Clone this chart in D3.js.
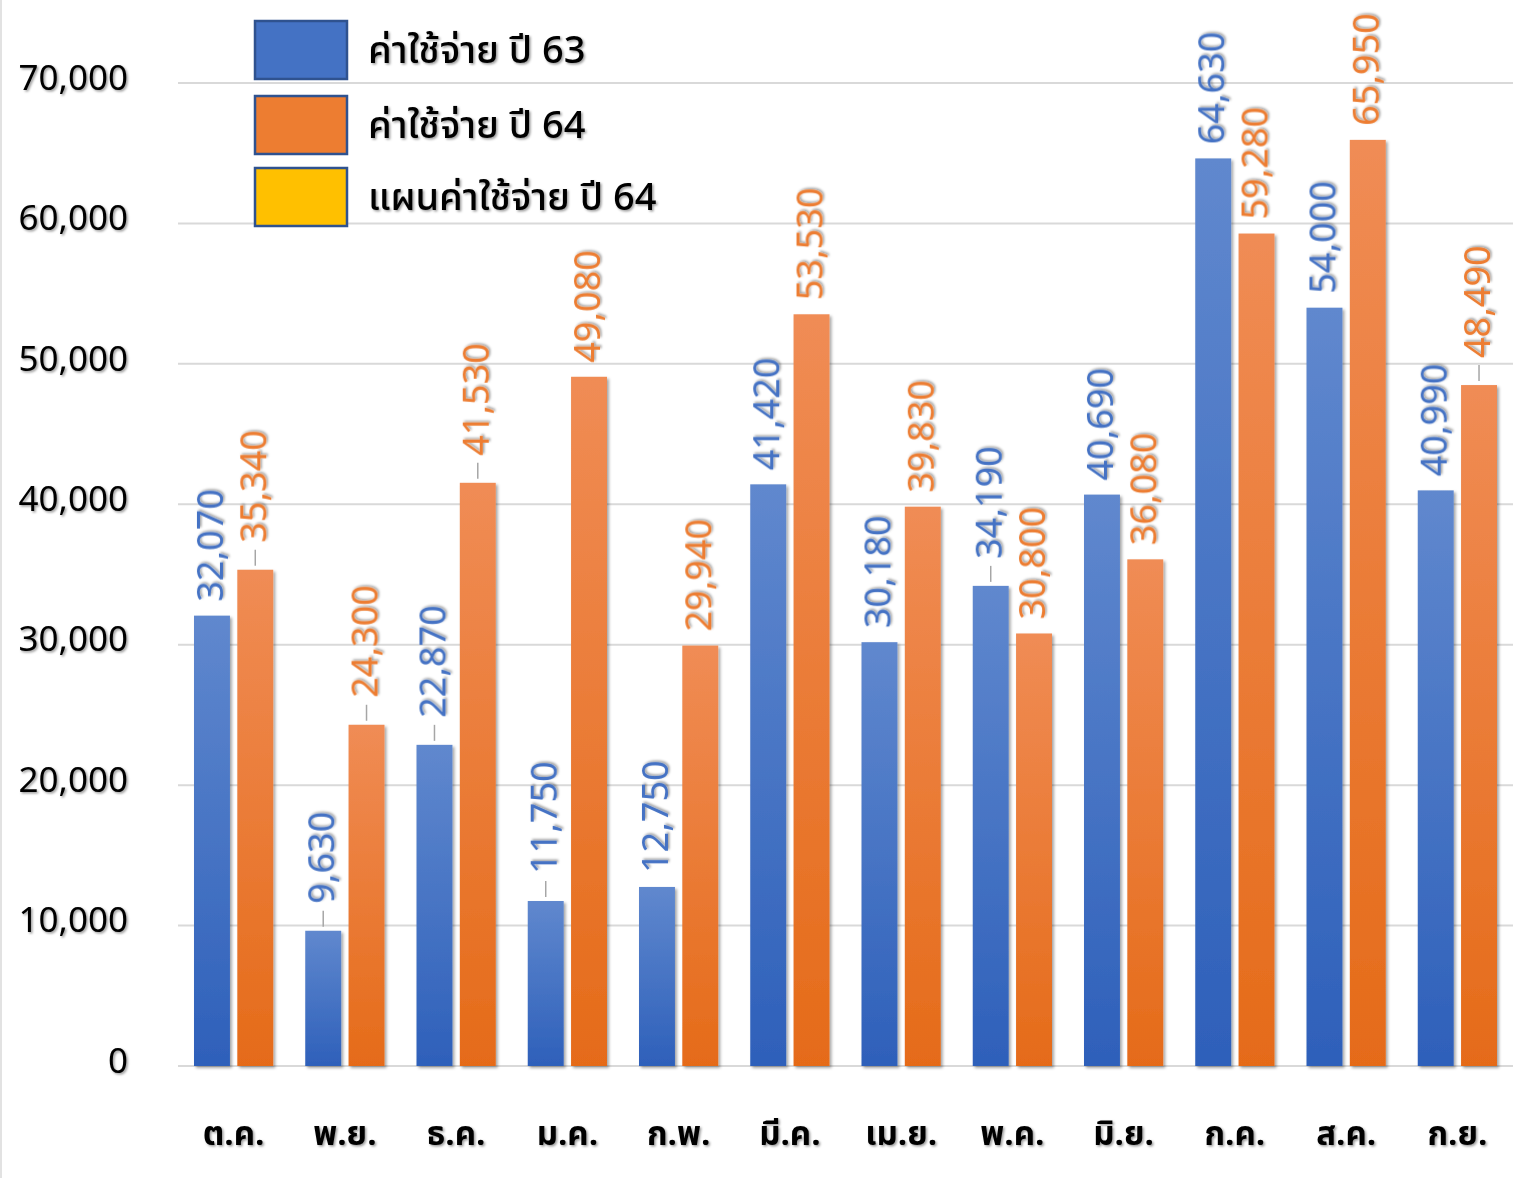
<!DOCTYPE html>
<html>
<head>
<meta charset="utf-8">
<script src="https://cdn.jsdelivr.net/npm/d3@7"></script>
<style>
  html, body { margin: 0; padding: 0; background: #fff; }
  svg { display: block; }
  text { font-family: "Noto Sans Thai", "Noto Sans", "Open Sans", sans-serif; }
</style>
</head>
<body>
<svg id="chart" width="1524" height="1178"></svg>
<script>
// ---- data ----
const months = ["ต.ค.", "พ.ย.", "ธ.ค.", "ม.ค.", "ก.พ.", "มี.ค.", "เม.ย.", "พ.ค.", "มิ.ย.", "ก.ค.", "ส.ค.", "ก.ย."];
const expense63 = [32070, 9630, 22870, 11750, 12750, 41420, 30180, 34190, 40690, 64630, 54000, 40990];
const expense64 = [35340, 24300, 41530, 49080, 29940, 53530, 39830, 30800, 36080, 59280, 65950, 48490];
const plan64 = []; // shown in legend only
const seriesNames = ["ค่าใช้จ่าย ปี 63", "ค่าใช้จ่าย ปี 64", "แผนค่าใช้จ่าย ปี 64"];
const yTicks = [0, 10000, 20000, 30000, 40000, 50000, 60000, 70000];
// labels that Excel moved up and connected with a leader line
const leader63 = ["พ.ย.", "ธ.ค.", "ม.ค.", "พ.ค."];
const leader64 = ["ต.ค.", "พ.ย.", "ธ.ค.", "ก.ย."];

const svg = d3.select("#chart");
const W = 1524, H = 1178;
const plot = { left: 178, right: 1513, top: 83, bottom: 1066 };

const defs = svg.append("defs");
const shadow = defs.append("filter").attr("id", "shadow")
  .attr("x", "-20%").attr("y", "-20%").attr("width", "140%").attr("height", "140%");
shadow.append("feDropShadow").attr("dx", 2).attr("dy", 2).attr("stdDeviation", 1.5)
  .attr("flood-color", "#000").attr("flood-opacity", 0.35);
const tshadow = defs.append("filter").attr("id", "tshadow")
  .attr("x", "-20%").attr("y", "-20%").attr("width", "140%").attr("height", "140%");
tshadow.append("feDropShadow").attr("dx", 1.5).attr("dy", 1.5).attr("stdDeviation", 1.2)
  .attr("flood-color", "#000").attr("flood-opacity", 0.4);

function grad(id, top, bottom) {
  const g = defs.append("linearGradient").attr("id", id)
    .attr("x1", 0).attr("y1", 0).attr("x2", 0).attr("y2", 1);
  g.append("stop").attr("offset", "0%").attr("stop-color", top);
  g.append("stop").attr("offset", "100%").attr("stop-color", bottom);
}
grad("gBlue", "#6088CE", "#2E60BA");
grad("gOrange", "#F08C55", "#E56B19");

const colors = ["#4472C4", "#ED7D31", "#FFC000"];

// chart border (left edge visible)
svg.append("line").attr("x1", 1).attr("x2", 1).attr("y1", 0).attr("y2", H)
  .attr("stroke", "#d9d9d9").attr("stroke-width", 1.5);

const y = d3.scaleLinear().domain([0, 70000]).range([plot.bottom, plot.top]);
const x0 = d3.scaleBand().domain(months).range([plot.left, plot.right]).padding(0);
const x1 = d3.scaleBand().domain(["63", "64"]).range([16, x0.bandwidth() - 16]).paddingInner(0.17);

// gridlines
svg.append("g").selectAll("line").data(yTicks).join("line")
  .attr("x1", plot.left).attr("x2", plot.right)
  .attr("y1", d => y(d)).attr("y2", d => y(d))
  .attr("stroke", "#d9d9d9").attr("stroke-width", 2);

// y axis labels
const fmt = d3.format(",");
svg.append("g").selectAll("text").data(yTicks).join("text")
  .attr("x", 128).attr("y", d => y(d) - 3)
  .attr("text-anchor", "end").attr("dominant-baseline", "middle")
  .attr("font-size", 35).attr("fill", "#000").attr("filter", "url(#tshadow)")
  .text(d => fmt(d));

// x axis labels
svg.append("g").selectAll("text").data(months).join("text")
  .attr("x", d => x0(d) + x0.bandwidth() / 2).attr("y", 1145)
  .attr("text-anchor", "middle")
  .attr("font-size", 33).attr("font-weight", "bold").attr("fill", "#000").attr("filter", "url(#tshadow)")
  .text(d => d);

const series = [
  { key: "63", values: expense63, fill: "url(#gBlue)", color: colors[0], leaders: leader63 },
  { key: "64", values: expense64, fill: "url(#gOrange)", color: colors[1], leaders: leader64 }
];

series.forEach(s => {
  const data = months.map((m, i) => ({ m, v: s.values[i], leader: s.leaders.includes(m) }));
  const g = svg.append("g");
  g.selectAll("rect").data(data).join("rect")
    .attr("x", d => x0(d.m) + x1(s.key))
    .attr("y", d => y(d.v))
    .attr("width", x1.bandwidth())
    .attr("height", d => y(0) - y(d.v))
    .attr("fill", s.fill)
    .attr("filter", "url(#shadow)");

  const cx = d => x0(d.m) + x1(s.key) + x1.bandwidth() / 2;
  // leader lines
  g.selectAll("line.leader").data(data.filter(d => d.leader)).join("line")
    .attr("class", "leader")
    .attr("x1", cx).attr("x2", cx)
    .attr("y1", d => y(d.v) - 4).attr("y2", d => y(d.v) - 20)
    .attr("stroke", "#a6a6a6").attr("stroke-width", 1.5);
  // labels
  g.selectAll("text").data(data).join("text")
    .attr("transform", d => `translate(${cx(d)},${y(d.v) - (d.leader ? 27 : 14)}) rotate(-90)`)
    .attr("text-anchor", "start").attr("dominant-baseline", "central")
    .attr("font-size", 36).attr("fill", s.color).attr("filter", "url(#tshadow)")
    .text(d => fmt(d.v));
});

// legend
const legend = svg.append("g");
const legendY = [21, 96, 168];
seriesNames.forEach((name, i) => {
  legend.append("rect")
    .attr("x", 255).attr("y", legendY[i]).attr("width", 92).attr("height", 58)
    .attr("fill", colors[i]).attr("stroke", "#2F528F").attr("stroke-width", 2.5);
  legend.append("text")
    .attr("x", 368).attr("y", legendY[i] + 30)
    .attr("dominant-baseline", "central")
    .attr("font-size", 38).attr("font-weight", 500).attr("fill", "#000").attr("filter", "url(#tshadow)")
    .text(name);
});
</script>
</body>
</html>
